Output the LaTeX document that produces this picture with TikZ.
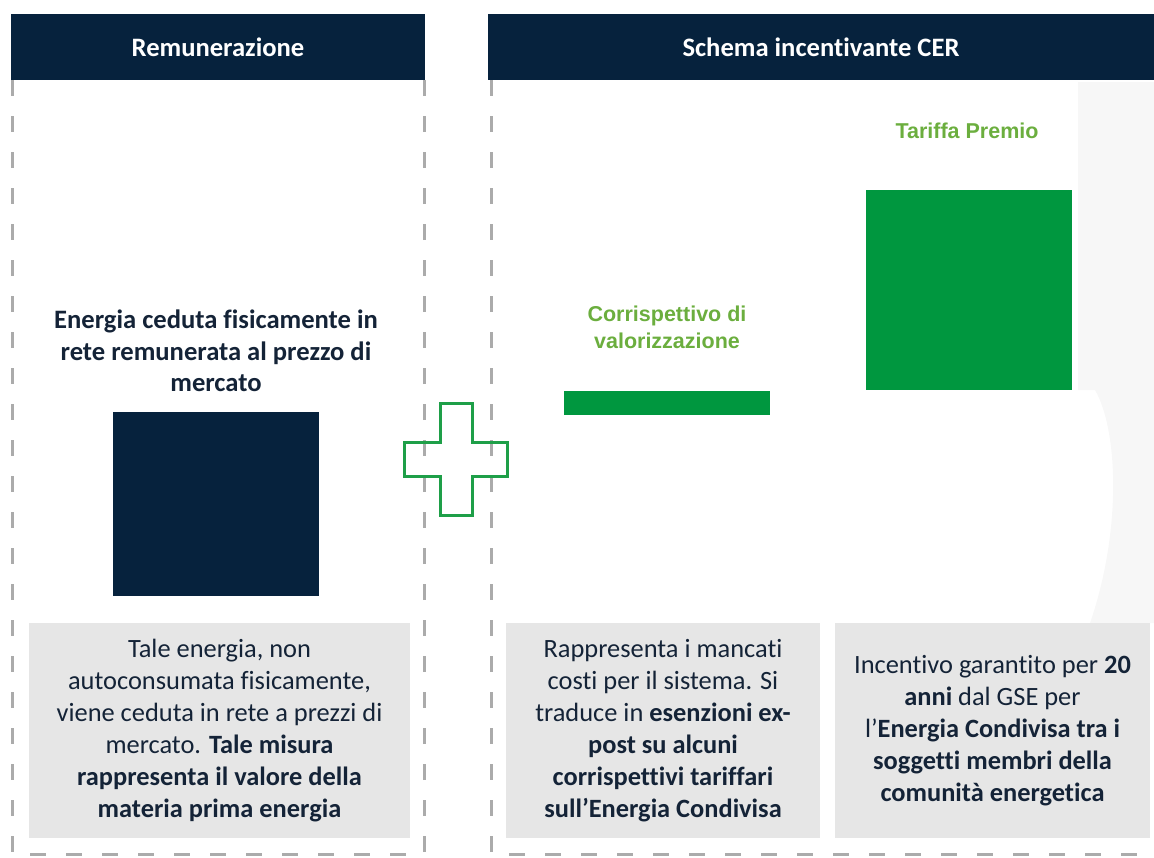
\documentclass[tikz,border=0pt]{standalone}
\usepackage{fontspec}
\setmainfont{Carlito}[Ligatures=NoCommon]
\newfontfamily\arialfont{Liberation Sans}
\definecolor{navy}{HTML}{06223D}
\definecolor{inktext}{HTML}{142337}
\definecolor{panelgrey}{HTML}{E6E6E6}
\definecolor{dashgrey}{HTML}{ABABAB}
\definecolor{barGreen}{HTML}{00973F}
\definecolor{labelGreen}{HTML}{6BAE3E}
\definecolor{plusGreen}{HTML}{1E9F48}
\definecolor{backgrey}{HTML}{F7F7F7}
\begin{document}
\begin{tikzpicture}
    [x=0.5pt,y=-0.5pt,%%%%%%%%%%%%%%%%%%%%%%%%%%%%%%
        header/.style={rectangle,fill=navy,inner sep=0pt,minimum height=33pt,text=white,font=\fontsize{13.3}{16}\selectfont\bfseries},
        block/.style={rectangle,inner sep=0pt},
        panel/.style={rectangle,fill=panelgrey,inner sep=0pt,minimum height=107.5pt,text=inktext,align=center,font=\fontsize{13.2}{16}\selectfont},
        dashbox/.style={draw=dashgrey,line width=1.5pt,dash pattern=on 8pt off 10pt},
        greenlabel/.style={text=labelGreen,align=center,font=\arialfont\fontsize{10.75}{13.5}\selectfont\bfseries},
        plus/.style={draw=plusGreen,line width=1.5pt},
    ]%%%%%%%%%%%%%%%%%%%%%%%%%%%%%%
\useasboundingbox (0,0) rectangle (1154,857);
% faint background sweep
\fill[backgrey] (1078,82) -- (1154,82) -- (1154,623) -- (1090,623)
    .. controls (1122,530) and (1118,430) .. (1095,390) -- (1078,390) -- cycle;
% headers
\node[header, minimum width=207pt] (hdrL) at (218,47) {Remunerazione};
\node[header, minimum width=333pt] (hdrR) at (821,47) {Schema incentivante CER};
% dashed frames
\draw[dashbox] (12,80) -- (12,854) -- (424,854) -- (424,80);
\draw[dashbox] (491,80) -- (491,854) -- (1154,854);
% left column
\node[text=inktext, align=center, font=\fontsize{13.3}{15.75}\selectfont\bfseries] (energia) at (216,351)
    {Energia ceduta fisicamente in\\rete remunerata al prezzo di\\mercato};
\node[block, fill=navy, minimum width=103pt, minimum height=92pt] (mercato) at (216,504) {};
\node[panel, minimum width=190.5pt] (descL) at (219.5,730.5)
    {Tale energia, non\\autoconsumata fisicamente,\\viene ceduta in rete a prezzi di\\mercato. \textbf{Tale misura}\\\textbf{rappresenta il valore della}\\\textbf{materia prima energia}};
% plus
\draw[plus] (440,403) -- (472,403) -- (472,442) -- (507,442) -- (507,476) -- (472,476)
    -- (472,515) -- (440,515) -- (440,476) -- (404,476) -- (404,442) -- (440,442) -- cycle;
% right column
\node[greenlabel] (corrLbl) at (667,327) {Corrispettivo di\\valorizzazione};
\node[block, fill=barGreen, minimum width=103pt, minimum height=12pt] (corrBar) at (667,403) {};
\node[greenlabel] (premioLbl) at (967,131) {Tariffa Premio};
\node[block, fill=barGreen, minimum width=103pt, minimum height=100pt] (premioBar) at (969,290) {};
\node[panel, minimum width=157pt] (descM) at (663,730.5)
    {Rappresenta i mancati\\costi per il sistema. Si\\traduce in \textbf{esenzioni ex-}\\\textbf{post su alcuni}\\\textbf{corrispettivi tariffari}\\\textbf{sull’Energia Condivisa}};
\node[panel, minimum width=157.5pt] (descR) at (992.5,730.5)
    {Incentivo garantito per \textbf{20}\\\textbf{anni} dal GSE per\\l’\textbf{Energia Condivisa tra i}\\\textbf{soggetti membri della}\\\textbf{comunità energetica}};
\end{tikzpicture}
\end{document}
